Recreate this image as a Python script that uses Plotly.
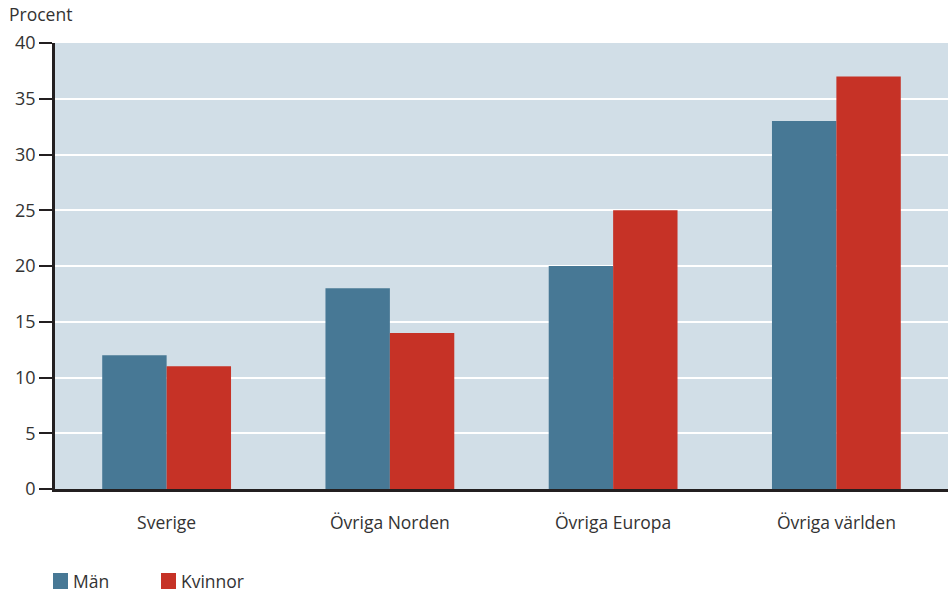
import plotly.graph_objects as go

categories = ["Sverige", "Övriga Norden", "Övriga Europa", "Övriga världen"]
series_names = ["Män", "Kvinnor"]
man = [12, 18, 20, 33]
kvinnor = [11, 14, 25, 37]
y_ticks = [0, 5, 10, 15, 20, 25, 30, 35, 40]
y_tick_labels = ["0", "5", "10", "15", "20", "25", "30", "35", "40"]
colors = ["#477895", "#C63226"]

FONT = "Open Sans"
TXT = "#333333"

fig = go.Figure()
for name, vals, col in zip(series_names, [man, kvinnor], colors):
    fig.add_trace(go.Bar(x=categories, y=vals, name=name, marker=dict(color=col, line=dict(width=0)),
                         showlegend=False))

fig.update_layout(
    width=948, height=595,
    margin=dict(l=55, r=0, t=43, b=106),
    paper_bgcolor="white",
    plot_bgcolor="#D1DEE7",
    barmode="group",
    bargap=0.423,
    bargroupgap=0,
    font=dict(family=FONT, size=17.5, color=TXT),
    xaxis=dict(showgrid=False, ticks="", showline=True, linecolor="#231F20", linewidth=3,
               tickfont=dict(size=17.5, color=TXT), ticklabelstandoff=16),
    yaxis=dict(range=[0, 40], tickvals=y_ticks, ticktext=y_tick_labels,
               showgrid=True, gridcolor="white", gridwidth=1.5,
               ticks="outside", ticklen=13, tickwidth=2, tickcolor="#231F20",
               showline=True, linecolor="#231F20", linewidth=2.5,
               tickfont=dict(size=18, color=TXT), zeroline=False),
)

pw = 948 - 55
ph = 595 - 43 - 106
fig.add_annotation(text="Procent", xref="paper", yref="paper",
                   x=(7 - 55) / pw, y=(595 - 106 - 14) / ph,
                   xanchor="left", yanchor="middle", showarrow=False,
                   font=dict(size=17.5, color=TXT, family=FONT))

# manual legend
legend_x = [53, 161]
for name, col, lx in zip(series_names, colors, legend_x):
    x0 = (lx - 55) / pw
    x1 = (lx + 15 - 55) / pw
    y0 = (489 - 589) / ph
    y1 = (489 - 573) / ph
    fig.add_shape(type="rect", xref="paper", yref="paper", x0=x0, x1=x1, y0=y0, y1=y1,
                  fillcolor=col, line=dict(width=0))
    fig.add_annotation(text=name, xref="paper", yref="paper",
                       x=(lx + 18 - 55) / pw, y=(489 - 581) / ph,
                       xanchor="left", yanchor="middle", showarrow=False,
                       font=dict(size=17.5, color=TXT, family=FONT))

fig.write_html("out.html")
